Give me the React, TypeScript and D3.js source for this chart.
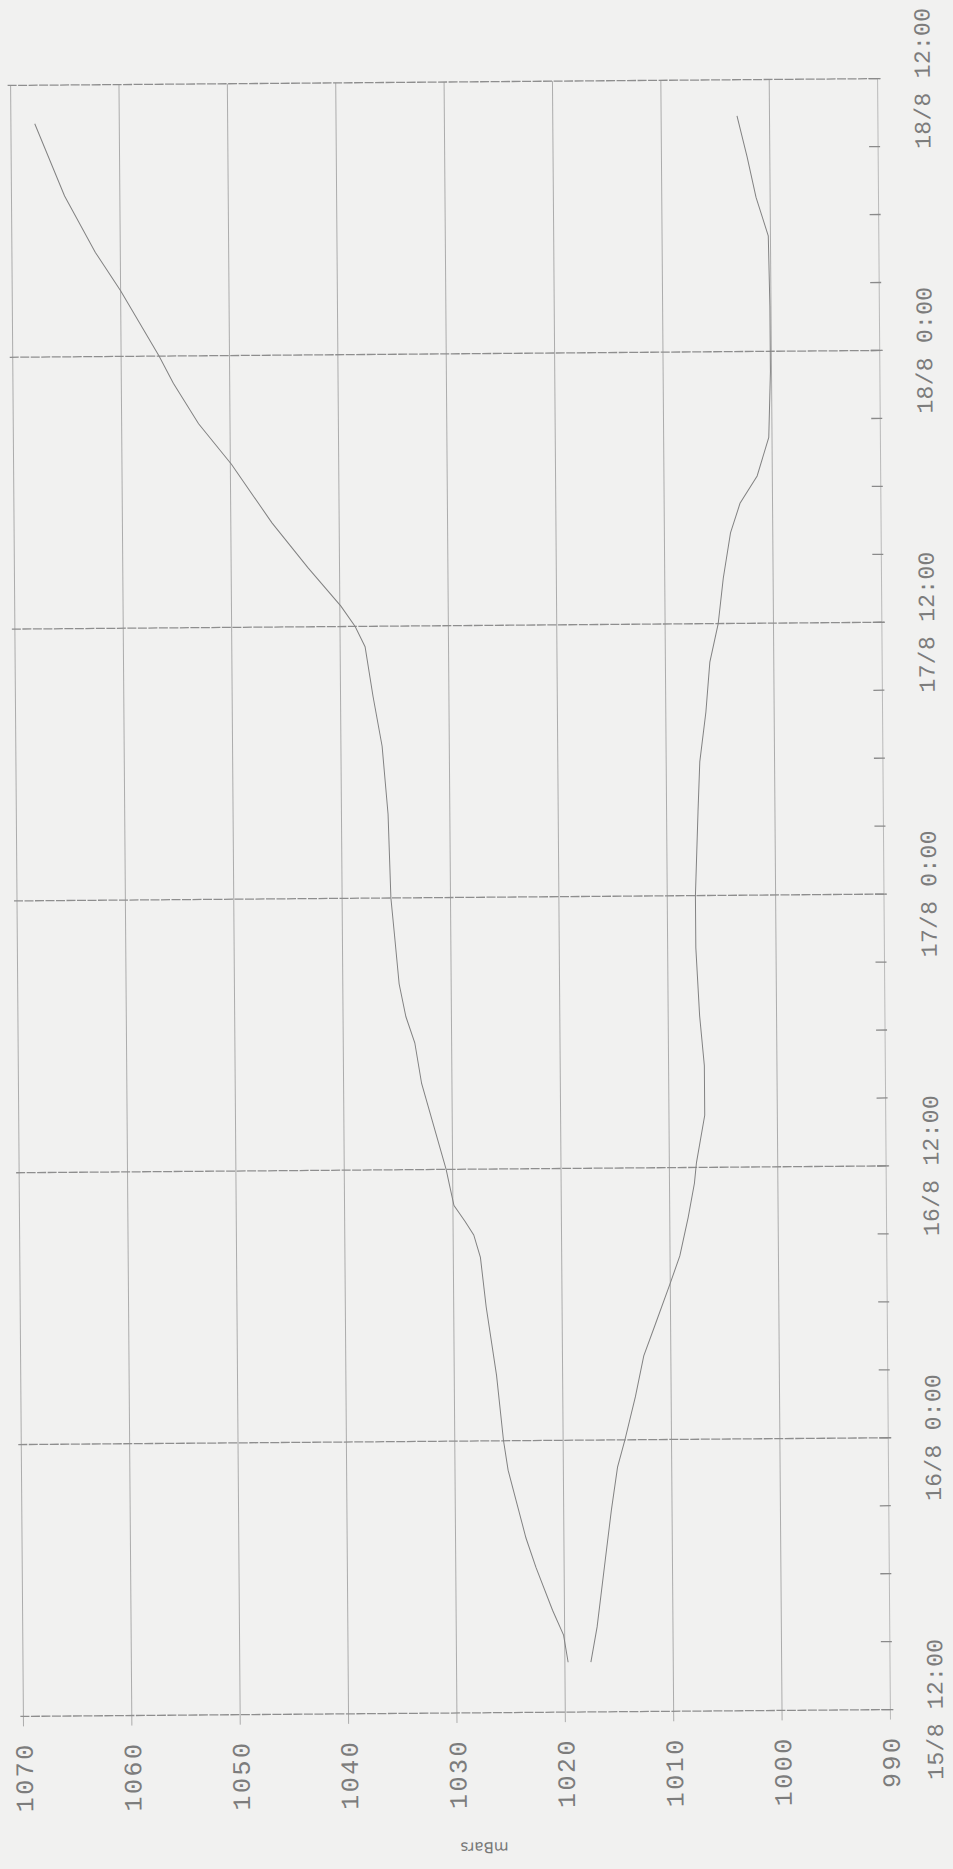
import React from "react";
import * as d3 from "d3";

// Pressure values (mbar) and time axis (hours after 15/8 12:00)
const pressureTicks = [1070, 1060, 1050, 1040, 1030, 1020, 1010, 1000, 990];
const timeLabels = ["15/8 12:00", "16/8 0:00", "16/8 12:00", "17/8 0:00", "17/8 12:00", "18/8 0:00", "18/8 12:00"];
const timeLabelHours = [0, 12, 24, 36, 48, 60, 72];

const hoursA = [2.2, 3.4, 4.5, 6.4, 7.7, 9.2, 10.7, 12, 14.9, 17.9, 20.1, 21.1, 21.7, 22.4, 23.3, 24, 27.8, 29.6, 30.75, 32.2, 34.4, 36, 39.7, 42.7, 44.9, 47.1, 48, 48.9, 50.6, 52.6, 55.2, 57.0, 58.8, 60, 62.9, 64.6, 67.1, 70.3];
const pressureA = [1019.7, 1020.1, 1021.1, 1022.6, 1023.5, 1024.3, 1025.1, 1025.5, 1026.1, 1027.0, 1027.5, 1028.1, 1028.9, 1029.9, 1030.3, 1030.6, 1032.8, 1033.4, 1034.2, 1034.8, 1035.2, 1035.5, 1035.7, 1036.2, 1037.0, 1037.7, 1038.6, 1039.9, 1042.9, 1046.2, 1049.9, 1052.9, 1055.2, 1056.5, 1060.0, 1062.3, 1065.1, 1067.8];

const hoursB = [2.2, 3.75, 6.7, 8.9, 10.8, 12, 13.9, 15.7, 17.1, 18.9, 20.1, 21.8, 23.3, 24.2, 26.3, 28.5, 30.7, 33.7, 36, 39.7, 41.9, 44.1, 46.3, 48, 50, 52, 53.3, 54.5, 56.2, 59.1, 62, 65.1, 66.8, 68.6, 70.4];
const pressureB = [1017.6, 1017.0, 1016.2, 1015.6, 1015.0, 1014.3, 1013.3, 1012.5, 1011.4, 1010.0, 1009.1, 1008.3, 1007.7, 1007.5, 1006.7, 1006.7, 1007.1, 1007.4, 1007.4, 1007.1, 1006.9, 1006.3, 1005.9, 1005.1, 1004.6, 1003.9, 1003.0, 1001.4, 1000.3, 1000.1, 1000.1, 1000.2, 1001.3, 1002.1, 1003.0];

const start = new Date(2000, 7, 15, 12, 0, 0);
const toDate = (h: number) => new Date(start.getTime() + h * 3600 * 1000);

export default function App() {
  const W = 953, H = 1869;
  const left = 17, right = 884, top = 82, bottom = 1713;
  const x = d3.scaleLinear().domain([1070, 990]).range([left, right]);
  const y = d3.scaleTime().domain([toDate(0), toDate(72)]).range([bottom, top]);

  const minorHours = d3.range(0, 73, 3);

  const line = d3
    .line<[number, number]>()
    .x((d) => x(d[1]))
    .y((d) => y(toDate(d[0])))
    .curve(d3.curveLinear);

  const serA = hoursA.map((h, i) => [h, pressureA[i]] as [number, number]);
  const serB = hoursB.map((h, i) => [h, pressureB[i]] as [number, number]);

  const labelColor = "#7c7c7c";

  return (
    <svg
      width={W}
      height={H}
      viewBox={`0 0 ${W} ${H}`}
      style={{ position: "absolute", left: 0, top: 0, display: "block" }}
    >
      <rect x={0} y={0} width={W} height={H} fill="#f1f1f0" />
      <g transform="rotate(-0.45 451 898)">
        {/* vertical gridlines (pressure) */}
        {pressureTicks.map((p) => (
          <line
            key={"v" + p}
            x1={x(p)}
            x2={x(p)}
            y1={top}
            y2={bottom + 10}
            stroke={p === 990 ? "#b4b4b4" : "#a4a4a4"}
            strokeWidth={0.9}
          />
        ))}
        {/* horizontal gridlines (time) */}
        {timeLabelHours.map((h) => (
          <line
            key={"h" + h}
            x1={x(1070) - 3}
            x2={x(990) + 3}
            y1={y(toDate(h))}
            y2={y(toDate(h))}
            stroke="#8e8e8e"
            strokeWidth={1.3}
            strokeDasharray="9 1.5"
          />
        ))}
        {/* right axis minor ticks every 3 hours */}
        {minorHours.map((h) => (
          <line
            key={"t" + h}
            x1={x(990) - 9}
            x2={x(990) + 2}
            y1={y(toDate(h))}
            y2={y(toDate(h))}
            stroke="#8a8a8a"
            strokeWidth={1.3}
          />
        ))}
        {/* series */}
        <path d={line(serA) || ""} fill="none" stroke="#828282" strokeWidth={1} />
        <path d={line(serB) || ""} fill="none" stroke="#828282" strokeWidth={1} />
        {/* bottom pressure labels */}
        {pressureTicks.map((p) => (
          <text
            key={"l" + p}
            transform={`translate(${x(p)},${bottom + 26}) rotate(-90)`}
            textAnchor="end"
            dy="0.36em"
            fontFamily="Liberation Mono, monospace"
            fontSize={25}
            letterSpacing={2.5}
            fill={labelColor}
          >
            {p}
          </text>
        ))}
        {/* right time labels */}
        {timeLabelHours.map((h, i) => (
          <text
            key={"tl" + h}
            transform={`translate(928,${y(toDate(h))}) rotate(-90)`}
            textAnchor="middle"
            dy="0.36em"
            fontFamily="Liberation Mono, monospace"
            fontSize={23}
            letterSpacing={0.3}
            fill={labelColor}
          >
            {timeLabels[i]}
          </text>
        ))}
        <text
          transform={`translate(477,1848) rotate(180)`}
          textAnchor="middle"
          dy="0.36em"
          fontFamily="DejaVu Sans, sans-serif"
          fontSize={15}
          fill="#777"
        >
          mBars
        </text>
      </g>
    </svg>
  );
}
